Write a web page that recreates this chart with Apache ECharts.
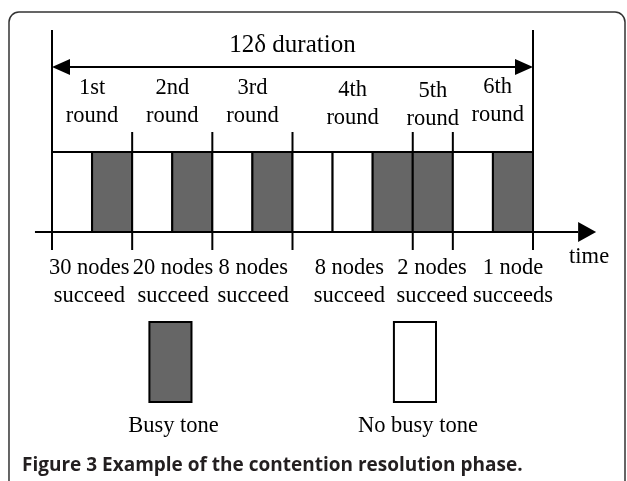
<!DOCTYPE html>
<html>
<head>
<meta charset="utf-8">
<style>
  html, body { margin: 0; padding: 0; background: #fff; }
  #main { width: 627px; height: 481px; }
</style>
<script src="https://cdn.jsdelivr.net/npm/echarts@6/dist/echarts.min.js"></script>
</head>
<body>
<div id="main"></div>
<script>
// one entry per slot of length delta: 1 = busy tone, 0 = no busy tone
const slotBusy = [0, 1, 0, 1, 0, 1, 0, 0, 1, 1, 0, 1]
// slot index where each round starts/ends
const roundBounds = [0, 2, 4, 6, 9, 10, 12]
const roundNames = ['1st', '2nd', '3rd', '4th', '5th', '6th']
const nodeOutcomes = [
  '30 nodes\nsucceed',
  '20 nodes\nsucceed',
  '8 nodes\nsucceed',
  '8 nodes\nsucceed',
  '2 nodes\nsucceed',
  '1 node\nsucceeds',
]
const durationLabel = '12\u03b4 duration'
const legendLabels = ['Busy tone', 'No busy tone']
const legendBusy = [1, 0]
const captionText = 'Figure 3 Example of the contention resolution phase.'

const GRAY = '#666666'
const SERIF = '"Liberation Serif", "Times New Roman", serif'
const LABEL_FONT = '22.5px ' + SERIF

// small hand placement nudges (slot units / y units), as in the drawing
const roundNudge = [[0, 0], [0, 0], [0, 0], [0, -0.025], [0, -0.04], [0.12, 0.01]]
const outcomeNudge = [-0.07, 0.02, 0.02, -0.08, -0.02, 0.5]
// legend box positions, in slot units
const legendX = [2.43, 8.53]

const chart = echarts.init(document.getElementById('main'))

const text = (x, y, str, font) => ({
  type: 'text',
  x, y,
  style: {
    text: str,
    font: font || LABEL_FONT,
    fill: '#000',
    align: 'center',
    verticalAlign: 'middle',
    lineHeight: 28,
  },
})

const line = (p, q, w) => ({
  type: 'line',
  shape: { x1: p[0], y1: p[1], x2: q[0], y2: q[1] },
  style: { stroke: '#000', lineWidth: w || 2 },
})

const rect = (p, q, busy) => ({
  type: 'rect',
  shape: { x: p[0], y: p[1], width: q[0] - p[0], height: q[1] - p[1] },
  style: { fill: busy ? GRAY : '#fff', stroke: '#000', lineWidth: 2 },
})

const roundCenters = roundNames.map((_, i) => (roundBounds[i] + roundBounds[i + 1]) / 2)
const nSlots = slotBusy.length

chart.setOption({
  animation: false,
  backgroundColor: '#fff',
  title: {
    text: captionText,
    left: 17,
    top: 451,
    textStyle: {
      fontFamily: '"Open Sans", sans-serif',
      fontWeight: 'bold',
      fontSize: 19,
      color: '#231f20',
    },
  },
  graphic: [
    {
      type: 'rect',
      shape: { x: 9, y: 12, width: 616, height: 500, r: 10 },
      style: { fill: 'none', stroke: '#333', lineWidth: 1.5 },
      silent: true,
    },
  ],
  grid: { left: 52, right: 94, top: 152, bottom: 249 },
  xAxis: { type: 'value', min: 0, max: nSlots, show: false },
  yAxis: { type: 'value', min: 0, max: 1, show: false },
  series: [
    {
      // the slots
      type: 'custom',
      clip: false,
      silent: true,
      data: slotBusy.map((b, i) => [i, b]),
      renderItem: (params, api) => {
        const i = api.value(0)
        return rect(api.coord([i, 1]), api.coord([i + 1, 0]), api.value(1))
      },
    },
    {
      // round boundary ticks above and below the slots
      type: 'custom',
      clip: false,
      silent: true,
      data: roundBounds.map((b) => [b]),
      renderItem: (params, api) => {
        const b = api.value(0)
        return {
          type: 'group',
          children: [
            line(api.coord([b, 1]), api.coord([b, 1.25])),
            line(api.coord([b, 0]), api.coord([b, -0.225])),
          ],
        }
      },
    },
    {
      // 12 delta duration arrow
      type: 'custom',
      clip: false,
      silent: true,
      data: [[0, nSlots]],
      renderItem: (params, api) => {
        const a = api.value(0)
        const b = api.value(1)
        const l = api.coord([a, 2.0625])
        const r = api.coord([b, 2.0625])
        const t = api.coord([(a + b) / 2, 2.3375])
        return {
          type: 'group',
          children: [
            line(api.coord([a, 1]), api.coord([a, 2.525])),
            line(api.coord([b, 1]), api.coord([b, 2.525])),
            line([l[0] + 10, l[1]], [r[0] - 10, r[1]]),
            {
              type: 'polygon',
              shape: { points: [[l[0], l[1]], [l[0] + 18, l[1] - 8], [l[0] + 18, l[1] + 8]] },
              style: { fill: '#000' },
            },
            {
              type: 'polygon',
              shape: { points: [[r[0], r[1]], [r[0] - 18, r[1] - 8], [r[0] - 18, r[1] + 8]] },
              style: { fill: '#000' },
            },
            text(t[0], t[1], durationLabel, '25px ' + SERIF),
          ],
        }
      },
    },
    {
      // time axis
      type: 'custom',
      clip: false,
      silent: true,
      data: [[0]],
      renderItem: (params, api) => {
        const s = api.coord([-0.425, 0])
        const e = api.coord([13.125, 0])
        const tip = api.coord([13.575, 0])
        const lab = api.coord([13.4, -0.3125])
        return {
          type: 'group',
          children: [
            line(s, e),
            {
              type: 'polygon',
              shape: { points: [[tip[0], tip[1]], [e[0], e[1] - 10], [e[0], e[1] + 10]] },
              style: { fill: '#000' },
            },
            text(lab[0], lab[1], 'time'),
          ],
        }
      },
    },
    {
      // round names above
      type: 'custom',
      clip: false,
      silent: true,
      data: roundCenters.map((c) => [c]),
      renderItem: (params, api) => {
        const n = roundNudge[params.dataIndex]
        const p = api.coord([api.value(0) + n[0], 1.625 + n[1]])
        return text(p[0], p[1], roundNames[params.dataIndex] + '\nround')
      },
    },
    {
      // outcome of each round below
      type: 'custom',
      clip: false,
      silent: true,
      data: roundCenters.map((c) => [c]),
      renderItem: (params, api) => {
        const p = api.coord([api.value(0) + outcomeNudge[params.dataIndex], -0.625])
        return text(p[0], p[1], nodeOutcomes[params.dataIndex])
      },
    },
    {
      // key
      type: 'custom',
      clip: false,
      silent: true,
      data: legendBusy.map((b, i) => [legendX[i], b]),
      renderItem: (params, api) => {
        const x = api.value(0)
        const p = api.coord([x, -1.125])
        const q = api.coord([x + 1.05, -2.125])
        const t = api.coord([x + 0.6, -2.425])
        return {
          type: 'group',
          children: [
            rect(p, q, api.value(1)),
            text(t[0], t[1], legendLabels[params.dataIndex]),
          ],
        }
      },
    },
  ],
})
</script>
</body>
</html>
